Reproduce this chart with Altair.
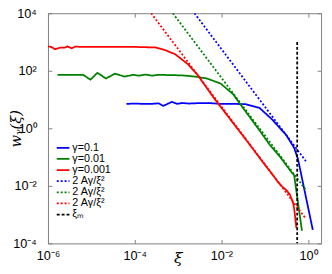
import altair as alt
import pandas as pd
import math

# ---- data (log10 values) ----
series_names = ["γ=0.1", "γ=0.01", "γ=0.001", "2 Aγ/ξ²", "2 Aγ/ξ² ", "2 Aγ/ξ²  ", "ξₘ"]
series_colors = ["#0000ff", "#008000", "#ff0000", "#0000ff", "#008000", "#ff0000", "#000000"]
series_dashes = [[1, 0], [1, 0], [1, 0], [2, 2], [2, 2], [2, 2], [3, 2]]
series_widths = [1.8, 1.8, 1.8, 1.3, 1.3, 1.3, 1.8]

blue_lx = [-4.19, -4.0, -3.8, -3.6, -3.45, -3.34, -3.14, -3.02, -2.91, -2.75, -2.62, -2.3, -2.0,
           -1.75, -1.44, -1.12, -0.83, -0.50, -0.32, -0.23, 0.11]
blue_ly = [0.85, 0.86, 0.85, 0.85, 0.87, 0.78, 0.92, 0.85, 0.88, 0.86, 0.87, 0.88, 0.85,
           0.85, 0.84, 0.71, 0.31, -0.24, -0.68, -1.08, -3.53]

green_lx = [-5.78, -5.19, -5.02, -4.86, -4.66, -4.46, -4.23, -4.03, -3.9, -3.75, -3.6, -3.45,
            -3.2, -2.9, -2.62, -2.33, -2.02, -1.73, -1.57, -1.12, -0.88, -0.65, -0.38, -0.32, -0.14]
green_ly = [1.86, 1.86, 1.69, 1.93, 1.73, 1.90, 1.80, 1.86, 1.83, 1.87, 1.83, 1.86,
            1.85, 1.84, 1.80, 1.73, 1.56, 1.19, 0.85, -0.07, -0.58, -0.98, -1.53, -1.63, -3.56]

red_lx = [-6.0, -5.93, -5.84, -5.73, -5.60, -5.55, -5.46, -5.37, -5.2, -5.0, -4.5, -4.0, -3.52,
          -3.3, -3.07, -2.78, -2.55, -2.17, -1.66, -1.44, -1.0, -0.83, -0.7, -0.6, -0.5, -0.42,
          -0.34, -0.31, -0.27]
red_ly = [2.85, 2.83, 2.75, 2.80, 2.81, 2.85, 2.78, 2.84, 2.83, 2.83, 2.83, 2.83, 2.81,
          2.72, 2.58, 2.24, 1.86, 1.05, 0.05, -0.38, -1.26, -1.59, -1.85, -2.02, -2.15, -2.3,
          -2.61, -2.9, -3.46]

dash_blue_lx = [-2.62, -0.05]
dash_blue_ly = [4.0, -1.14]
dash_green_lx = [-3.12, -0.05]
dash_green_ly = [4.0, -2.14]
dash_red_lx = [-3.62, -0.05]
dash_red_ly = [4.0, -3.14]
xim_lx = [-0.25, -0.25]
xim_ly = [3.0, -4.0]

x_ticks = [1e-6, 1e-4, 1e-2, 1]
x_tick_labels = ["10⁻⁶", "10⁻⁴", "10⁻²", "10⁰"]
y_ticks = [1e-4, 1e-2, 1, 1e2, 1e4]
y_tick_labels = ["10⁻⁴", "10⁻²", "10⁰", "10²", "10⁴"]

rows = []
for name, lx, ly in zip(series_names,
                        [blue_lx, green_lx, red_lx, dash_blue_lx, dash_green_lx, dash_red_lx, xim_lx],
                        [blue_ly, green_ly, red_ly, dash_blue_ly, dash_green_ly, dash_red_ly, xim_ly]):
    for i, (a, b) in enumerate(zip(lx, ly)):
        rows.append({"series": name, "x": 10 ** a, "y": 10 ** b, "i": i})
df = pd.DataFrame(rows)


def label_expr(ticks, labels):
    expr = "''"
    for t, l in reversed(list(zip(ticks, labels))):
        expr = f"abs(log(datum.value)/LN10 - ({round(math.log10(t))})) < 0.1 ? '{l}' : " + expr
    return expr


xscale = alt.Scale(type="log", domain=[1e-6, 2], nice=False)
yscale = alt.Scale(type="log", domain=[1e-4, 1e4], nice=False)
FONT = "Liberation Sans"

lines = alt.Chart(df).mark_line(clip=True).encode(
    x=alt.X("x:Q", scale=xscale,
            axis=alt.Axis(orient="bottom", values=x_ticks, labelExpr=label_expr(x_ticks, x_tick_labels),
                          tickSize=4, offset=-4, domain=False, grid=False, labelPadding=7,
                          labelFlush=False, labelOverlap=False,
                          labelFont=FONT, labelFontSize=13, labelBaseline="top",
                          title="ξ", titleFont="DejaVu Serif", titleFontStyle="italic",
                          titleFontWeight="normal", titleFontSize=16, titleX=133, titleY=24,
                          titleBaseline="alphabetic")),
    y=alt.Y("y:Q", scale=yscale,
            axis=alt.Axis(orient="left", values=y_ticks, labelExpr=label_expr(y_ticks, y_tick_labels),
                          tickSize=4, offset=-4, domain=False, grid=False, labelPadding=12,
                          labelFlush=False, labelOverlap=False,
                          labelFont=FONT, labelFontSize=13,
                          title="wᵧ(ξ)", titleFont="DejaVu Serif", titleFontStyle="italic",
                          titleFontWeight="normal", titleFontSize=15, titleAngle=270,
                          titleX=-37, titleY=118, titleBaseline="middle", titleAlign="center")),
    color=alt.Color("series:N", scale=alt.Scale(domain=series_names, range=series_colors),
                    legend=alt.Legend(title=None, orient="none", legendX=9.5, legendY=132,
                                      symbolType="M-1.3,0H1.3", symbolSize=100, labelFont=FONT,
                                      labelFontSize=11, labelOffset=3.5, rowPadding=0.4, padding=0)),
    strokeDash=alt.StrokeDash("series:N", scale=alt.Scale(domain=series_names, range=series_dashes),
                              legend=alt.Legend(title=None)),
    strokeWidth=alt.StrokeWidth("series:N", scale=alt.Scale(domain=series_names, range=series_widths),
                                legend=alt.Legend(title=None)),
    order="i:Q",
)

frame = alt.Chart(df).mark_line(opacity=0).encode(
    x=alt.X("x:Q", scale=xscale,
            axis=alt.Axis(orient="top", values=x_ticks, labels=False, tickSize=4, offset=-4,
                          domain=False, grid=False, title=None)),
    y=alt.Y("y:Q", scale=yscale,
            axis=alt.Axis(orient="right", values=y_ticks, labels=False, tickSize=4, offset=-4,
                          domain=False, grid=False, title=None)),
    detail="series:N",
)

chart = alt.layer(lines, frame).resolve_axis(x="independent", y="independent").properties(
    width=280, height=236,
    autosize=alt.AutoSizeParams(type="none"),
    padding={"left": 41, "top": 2, "right": 3, "bottom": 28},
).configure_view(stroke="#808080", strokeWidth=1).configure_axis(
    tickColor="#808080", labelColor="#000000", titleColor="#000000"
).configure_legend(labelColor="#000000")

chart.save("out.html", embed_options={"renderer": "svg", "actions": False})
